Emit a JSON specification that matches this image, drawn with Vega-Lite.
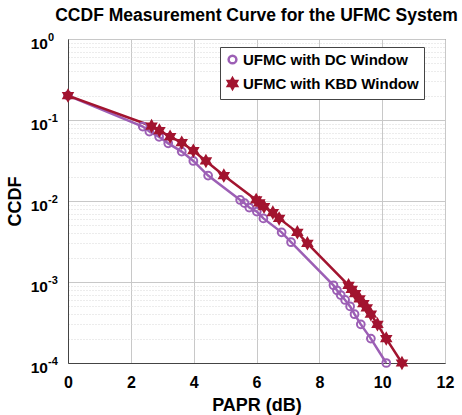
{
  "$schema": "https://vega.github.io/schema/vega-lite/v6.json",
  "autosize": "none",
  "width": 377,
  "height": 324,
  "padding": {"left": 68, "top": 39, "right": 17, "bottom": 52},
  "background": "white",
  "title": {
    "text": "CCDF Measurement Curve for the UFMC System",
    "font": "Liberation Sans",
    "fontSize": 17.5,
    "fontWeight": "bold",
    "color": "black",
    "anchor": "middle",
    "offset": 7
  },
  "config": {
    "view": {"stroke": "#444444", "strokeWidth": 1},
    "axis": {
      "labelFont": "Liberation Sans",
      "labelFontWeight": "bold",
      "labelColor": "black",
      "titleFont": "Liberation Sans",
      "titleFontWeight": "bold",
      "titleColor": "black",
      "domainColor": "#444444",
      "tickColor": "#444444"
    }
  },
  "resolve": {"axis": {"y": "independent"}},
  "data": {
    "values": [
      {"series": "UFMC with DC Window", "papr": 0.0, "ccdf": 0.2},
      {"series": "UFMC with DC Window", "papr": 2.38, "ccdf": 0.083},
      {"series": "UFMC with DC Window", "papr": 2.59, "ccdf": 0.072},
      {"series": "UFMC with DC Window", "papr": 2.9, "ccdf": 0.062},
      {"series": "UFMC with DC Window", "papr": 3.19, "ccdf": 0.0515},
      {"series": "UFMC with DC Window", "papr": 3.62, "ccdf": 0.0407},
      {"series": "UFMC with DC Window", "papr": 3.99, "ccdf": 0.0312},
      {"series": "UFMC with DC Window", "papr": 4.46, "ccdf": 0.0206},
      {"series": "UFMC with DC Window", "papr": 5.48, "ccdf": 0.0103},
      {"series": "UFMC with DC Window", "papr": 5.62, "ccdf": 0.0094},
      {"series": "UFMC with DC Window", "papr": 5.77, "ccdf": 0.0083},
      {"series": "UFMC with DC Window", "papr": 6.01, "ccdf": 0.0074},
      {"series": "UFMC with DC Window", "papr": 6.22, "ccdf": 0.0061},
      {"series": "UFMC with DC Window", "papr": 6.8, "ccdf": 0.0041},
      {"series": "UFMC with DC Window", "papr": 7.1, "ccdf": 0.0031},
      {"series": "UFMC with DC Window", "papr": 8.45, "ccdf": 0.00091},
      {"series": "UFMC with DC Window", "papr": 8.56, "ccdf": 0.00079},
      {"series": "UFMC with DC Window", "papr": 8.68, "ccdf": 0.00069},
      {"series": "UFMC with DC Window", "papr": 8.82, "ccdf": 0.0006},
      {"series": "UFMC with DC Window", "papr": 8.98, "ccdf": 0.0005},
      {"series": "UFMC with DC Window", "papr": 9.12, "ccdf": 0.0004},
      {"series": "UFMC with DC Window", "papr": 9.32, "ccdf": 0.0003},
      {"series": "UFMC with DC Window", "papr": 9.64, "ccdf": 0.0002},
      {"series": "UFMC with DC Window", "papr": 10.13, "ccdf": 0.0001},
      {"series": "UFMC with KBD Window", "papr": 0.0, "ccdf": 0.2},
      {"series": "UFMC with KBD Window", "papr": 2.66, "ccdf": 0.0843},
      {"series": "UFMC with KBD Window", "papr": 2.91, "ccdf": 0.074},
      {"series": "UFMC with KBD Window", "papr": 3.25, "ccdf": 0.0622},
      {"series": "UFMC with KBD Window", "papr": 3.62, "ccdf": 0.0525},
      {"series": "UFMC with KBD Window", "papr": 3.99, "ccdf": 0.0418},
      {"series": "UFMC with KBD Window", "papr": 4.39, "ccdf": 0.0312},
      {"series": "UFMC with KBD Window", "papr": 4.96, "ccdf": 0.0206},
      {"series": "UFMC with KBD Window", "papr": 5.99, "ccdf": 0.0103},
      {"series": "UFMC with KBD Window", "papr": 6.09, "ccdf": 0.0095},
      {"series": "UFMC with KBD Window", "papr": 6.24, "ccdf": 0.0085},
      {"series": "UFMC with KBD Window", "papr": 6.52, "ccdf": 0.0072},
      {"series": "UFMC with KBD Window", "papr": 6.72, "ccdf": 0.0061},
      {"series": "UFMC with KBD Window", "papr": 7.3, "ccdf": 0.0041},
      {"series": "UFMC with KBD Window", "papr": 7.62, "ccdf": 0.003},
      {"series": "UFMC with KBD Window", "papr": 8.93, "ccdf": 0.00091},
      {"series": "UFMC with KBD Window", "papr": 9.03, "ccdf": 0.00081},
      {"series": "UFMC with KBD Window", "papr": 9.14, "ccdf": 0.00072},
      {"series": "UFMC with KBD Window", "papr": 9.28, "ccdf": 0.00062},
      {"series": "UFMC with KBD Window", "papr": 9.4, "ccdf": 0.00054},
      {"series": "UFMC with KBD Window", "papr": 9.51, "ccdf": 0.00048},
      {"series": "UFMC with KBD Window", "papr": 9.64, "ccdf": 0.0004},
      {"series": "UFMC with KBD Window", "papr": 9.85, "ccdf": 0.0003},
      {"series": "UFMC with KBD Window", "papr": 10.13, "ccdf": 0.0002},
      {"series": "UFMC with KBD Window", "papr": 10.63, "ccdf": 0.0001}
    ]
  },
  "encoding": {
    "x": {
      "field": "papr",
      "type": "quantitative",
      "scale": {"domain": [0, 12], "nice": false, "zero": false},
      "axis": {
        "title": "PAPR (dB)",
        "titleFontSize": 18,
        "titlePadding": 6,
        "values": [0, 2, 4, 6, 8, 10, 12],
        "labelFontSize": 16,
        "labelPadding": 11,
        "ticks": false,
        "grid": true,
        "gridColor": "#c8c8c8",
        "gridWidth": 1,
        "labelFlush": false
      }
    }
  },
  "layer": [
    {
      "mark": {"type": "line", "strokeWidth": 2.5},
      "encoding": {
        "y": {
          "field": "ccdf",
          "type": "quantitative",
          "scale": {"type": "log", "domain": [0.0001, 1], "nice": false},
          "axis": {
            "orient": "left",
            "title": "CCDF",
            "titleFontSize": 18,
            "titlePadding": 6,
            "values": [0.0001, 0.0002, 0.0003, 0.0004, 0.0005, 0.0006, 0.0007, 0.0008, 0.0009, 0.001, 0.002, 0.003, 0.004, 0.005, 0.006, 0.007, 0.008, 0.009, 0.01, 0.02, 0.03, 0.04, 0.05, 0.06, 0.07, 0.08, 0.09, 0.1, 0.2, 0.3, 0.4, 0.5, 0.6, 0.7, 0.8, 0.9, 1],
            "labelExpr": "abs(log(datum.value)/LN10 - round(log(datum.value)/LN10)) < 0.001 ? '10' : ''",
            "labelFontSize": 15.5,
            "labelAlign": "right",
            "labelBaseline": "middle",
            "labelPadding": 20.5,
            "labelOverlap": false,
            "labelFlush": false,
            "labelOffset": 4.5,
            "ticks": false,
            "grid": true,
            "gridColor": {"condition": {"test": "abs(log(datum.value)/LN10 - round(log(datum.value)/LN10)) < 0.001", "value": "#c8c8c8"}, "value": "#d8d8d8"},
            "gridDash": {"condition": {"test": "abs(log(datum.value)/LN10 - round(log(datum.value)/LN10)) < 0.001", "value": []}, "value": [1, 2]}
          }
        },
        "stroke": {
          "field": "series",
          "type": "nominal",
          "scale": {"domain": ["UFMC with DC Window", "UFMC with KBD Window"], "range": ["#9C5FB5", "#A2142F"]}
        }
      }
    },
    {
      "mark": {"type": "point", "strokeWidth": 2, "opacity": 1},
      "encoding": {
        "y": {
          "field": "ccdf",
          "type": "quantitative",
          "axis": {
            "orient": "left",
            "title": null,
            "values": [0.0001, 0.001, 0.01, 0.1, 1],
            "labelExpr": "['0','-1','-2','-3','-4'][round(-log(datum.value)/LN10)]",
            "labelFontSize": 11,
            "labelAlign": "left",
            "labelBaseline": "middle",
            "labelPadding": 20.5,
            "labelOffset": -2,
            "labelOverlap": false,
            "labelFlush": false,
            "ticks": false,
            "domain": false,
            "grid": false
          }
        },
        "stroke": {
          "field": "series",
          "type": "nominal",
          "scale": {"domain": ["UFMC with DC Window", "UFMC with KBD Window"], "range": ["#9C5FB5", "#A2142F"]}
        },
        "fill": {
          "field": "series",
          "type": "nominal",
          "scale": {"domain": ["UFMC with DC Window", "UFMC with KBD Window"], "range": ["transparent", "#A2142F"]}
        },
        "size": {
          "field": "series",
          "type": "nominal",
          "scale": {"domain": ["UFMC with DC Window", "UFMC with KBD Window"], "range": [60, 110]}
        },
        "shape": {
          "field": "series",
          "type": "nominal",
          "scale": {"domain": ["UFMC with DC Window", "UFMC with KBD Window"], "range": ["circle", "M0,-1L0.289,-0.5L0.866,-0.5L0.577,0L0.866,0.5L0.289,0.5L0,1L-0.289,0.5L-0.866,0.5L-0.577,0L-0.866,-0.5L-0.289,-0.5Z"]},
          "legend": {
            "title": null,
            "orient": "none",
            "legendX": 152,
            "legendY": 8,
            "padding": 5,
            "fillColor": "white",
            "strokeColor": "#444444",
            "labelFont": "Liberation Sans",
            "labelFontWeight": "bold",
            "labelFontSize": 15,
            "labelColor": "black",
            "labelOffset": 3,
            "labelLimit": 300,
            "rowPadding": 4,
            "symbolStrokeWidth": 2.5
          }
        }
      }
    }
  ]
}
